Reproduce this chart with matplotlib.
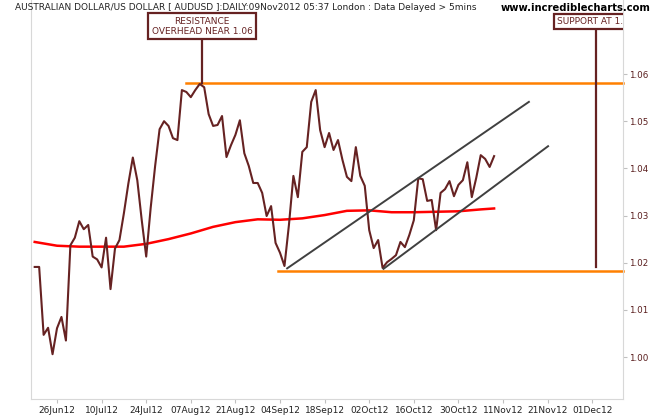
import numpy as np
import matplotlib.pyplot as plt

# AUD/USD daily closes, day 0 = 26Jun12 (trading days)
start_day = -5
closes = [1.0191, 1.0191, 1.0047, 1.0062, 1.0006, 1.0061, 1.0085, 1.0035, 1.0237, 1.0253,
          1.0288, 1.0271, 1.0280, 1.0213, 1.0207, 1.0190, 1.0253, 1.0144, 1.0230, 1.0248,
          1.0305, 1.0368, 1.0423, 1.0375, 1.0290, 1.0213, 1.0316, 1.0405, 1.0483, 1.0500,
          1.0490, 1.0464, 1.0460, 1.0566, 1.0562, 1.0551, 1.0566, 1.0579, 1.0572, 1.0515,
          1.0490, 1.0492, 1.0511, 1.0424, 1.0449, 1.0471, 1.0502, 1.0432, 1.0405, 1.0369,
          1.0369, 1.0348, 1.0299, 1.0320, 1.0242, 1.0221, 1.0193, 1.0280, 1.0384, 1.0339,
          1.0435, 1.0445, 1.0541, 1.0566, 1.0481, 1.0445, 1.0475, 1.0439, 1.0460, 1.0418,
          1.0382, 1.0373, 1.0445, 1.0384, 1.0363, 1.0269, 1.0231, 1.0248, 1.0189, 1.0201,
          1.0208, 1.0216, 1.0244, 1.0233, 1.0259, 1.0290, 1.0379, 1.0377, 1.0331, 1.0333,
          1.0269, 1.0348, 1.0356, 1.0373, 1.0341, 1.0365, 1.0375, 1.0413, 1.0339, 1.0380,
          1.0428, 1.0420, 1.0403, 1.0426]
days = np.arange(start_day, start_day + len(closes))

# long moving average (red)
ma_days = [-5, 0, 5, 10, 15, 20, 25, 30, 35, 40, 45, 50, 55, 60, 65, 70, 75, 80, 85, 90, 95, 98]
ma_values = [1.0244, 1.0236, 1.0234, 1.0234, 1.0234, 1.0240, 1.0250, 1.0262, 1.0276, 1.0286,
             1.0292, 1.0291, 1.0294, 1.0301, 1.0310, 1.0311, 1.0307, 1.0307, 1.0308, 1.0309,
             1.0313, 1.0315]

tick_days = [0, 10, 20, 30, 40, 50, 60, 70, 80, 90, 100, 110, 120]
tick_labels = ['26Jun12', '10Jul12', '24Jul12', '07Aug12', '21Aug12', '04Sep12', '18Sep12',
               '02Oct12', '16Oct12', '30Oct12', '11Nov12', '21Nov12', '01Dec12']
y_ticks = [1.00, 1.01, 1.02, 1.03, 1.04, 1.05, 1.06]

resistance = 1.0581
resistance_from = 29
support = 1.0183
support_from = 49.6

upper_days = [51.6, 105.8]
upper_vals = [1.0188, 1.0541]
lower_days = [73.2, 110.1]
lower_vals = [1.0187, 1.0447]

res_note_day, res_note_y = 32.5, 1.0701
sup_note_day, sup_note_y = 120.8, 1.0712

maroon = '#662222'

fig = plt.figure(figsize=(6.6, 4.2), dpi=100)
ax = fig.add_axes([31/660, 21/420, 592/660, 399/420])
ax.set_xlim(-5.83, 126.9)
ax.set_ylim(0.9911, 1.0757)

ax.plot(ma_days, ma_values, color='#ff0000', lw=1.8, zorder=3)
ax.plot(days, closes, color=maroon, lw=1.5, zorder=4)

xmax = ax.get_xlim()[1]
ax.plot([resistance_from, xmax], [resistance, resistance], color='#ff8000', lw=1.8, zorder=2, clip_on=False)
ax.plot([support_from, xmax], [support, support], color='#ff8000', lw=1.8, zorder=2, clip_on=False)

ax.plot(upper_days, upper_vals, color='#404040', lw=1.4, zorder=5)
ax.plot(lower_days, lower_vals, color='#404040', lw=1.4, zorder=5)

# callouts
ax.plot([res_note_day, res_note_day], [resistance, res_note_y], color=maroon, lw=1.6, zorder=6)
ax.text(res_note_day, res_note_y, 'RESISTANCE\nOVERHEAD NEAR 1.06', ha='center', va='center',
        fontsize=6.5, color=maroon, linespacing=1.25, zorder=7,
        bbox=dict(boxstyle='square,pad=0.35', fc='white', ec=maroon, lw=1.6))
ax.plot([sup_note_day, sup_note_day], [support + 0.0008, sup_note_y], color=maroon, lw=1.6, zorder=6)
t = ax.text(sup_note_day, sup_note_y, 'SUPPORT AT 1.02', ha='center', va='center',
            fontsize=6.5, color=maroon, zorder=7,
            bbox=dict(boxstyle='square,pad=0.35', fc='white', ec=maroon, lw=1.6))
t.set_clip_box(ax.bbox)
t.set_clip_on(True)

ax.set_xticks(tick_days)
ax.set_xticklabels(tick_labels)
ax.set_yticks(y_ticks)
ax.set_yticklabels(['%.2f' % v for v in y_ticks])
ax.yaxis.tick_right()

for s in ['left', 'bottom', 'right']:
    ax.spines[s].set_color('#d8d8d8')
ax.spines['top'].set_visible(False)
ax.tick_params(axis='x', length=3, color='#c0c0c0', labelsize=6.5, labelcolor='#222222', pad=2)
ax.tick_params(axis='y', length=3, color='#c0c0c0', labelsize=6.3, labelcolor='#5a1e1e', pad=1.5)

fig.text(15/660, 1 - 7/420, 'AUSTRALIAN DOLLAR/US DOLLAR [ AUDUSD ]:DAILY:09Nov2012 05:37 London : Data Delayed > 5mins',
         fontsize=6.5, color='#222222', va='center', ha='left')
fig.text(651/660, 1 - 8/420, 'www.incrediblecharts.com', fontsize=7.2, fontweight='bold',
         color='black', va='center', ha='right')

fig.savefig('out.png', dpi=100)
